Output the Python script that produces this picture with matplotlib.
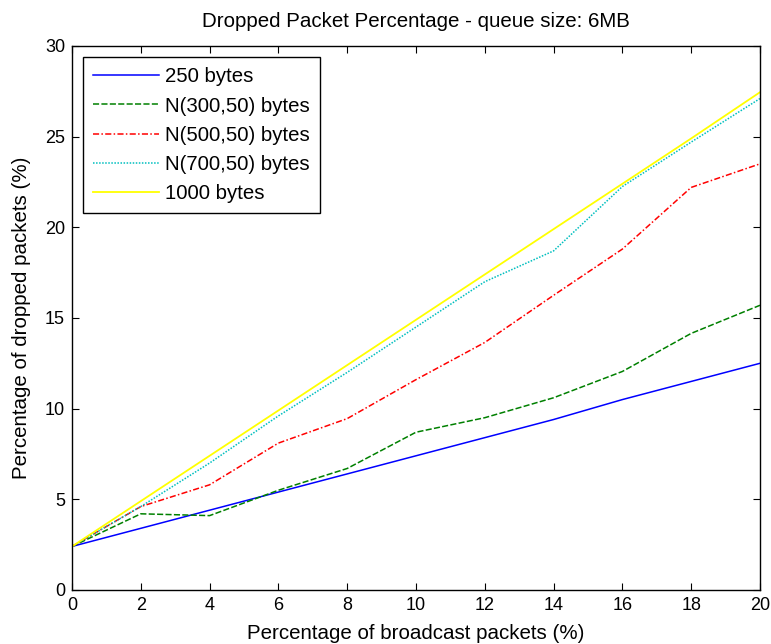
import matplotlib
matplotlib.use('Agg')
import matplotlib.pyplot as plt

plt.rcParams['font.family'] = ['Liberation Sans', 'DejaVu Sans']

broadcast = [0, 2, 4, 6, 8, 10, 12, 14, 16, 18, 20]
b250 = [2.4, 3.4, 4.4, 5.4, 6.4, 7.4, 8.4, 9.4, 10.5, 11.5, 12.5]
n300 = [2.4, 4.2, 4.1, 5.5, 6.7, 8.7, 9.5, 10.6, 12.05, 14.15, 15.7]
n500 = [2.4, 4.6, 5.8, 8.1, 9.45, 11.6, 13.65, 16.25, 18.8, 22.2, 23.5]
n700 = [2.4, 4.6, 7.0, 9.6, 12.0, 14.5, 17.0, 18.7, 22.25, 24.7, 27.1]
b1000 = [2.4, 4.9, 7.4, 9.9, 12.4, 14.9, 17.4, 19.9, 22.4, 24.9, 27.45]

fig = plt.figure(figsize=(7.71, 6.44), dpi=100)
ax = fig.add_axes([0.0934, 0.0839, 0.8923, 0.8447])

ax.plot(broadcast, b250, color='#0000ff', lw=1.1, label='250 bytes')
ax.plot(broadcast, n300, color='#008000', lw=1.1, ls=(0, (4, 1.5)), label='N(300,50) bytes')
ax.plot(broadcast, n500, color='#ff0000', lw=1.1, ls=(0, (4, 1.5, 1, 1.5)), label='N(500,50) bytes')
ax.plot(broadcast, n700, color='#00bfbf', lw=1.1, ls=(0, (1, 1)), label='N(700,50) bytes')
ax.plot(broadcast, b1000, color='#ffff00', lw=1.3, label='1000 bytes')

ax.set_xlim(0, 20)
ax.set_ylim(0, 30)
ax.set_xticks(range(0, 21, 2))
ax.set_yticks(range(0, 31, 5))
ax.tick_params(direction='in', top=True, right=True, labelsize=13, length=5, pad=5)
for s in ax.spines.values():
    s.set_linewidth(1.0)

ax.set_title('Dropped Packet Percentage - queue size: 6MB', fontsize=14.8, pad=14)
ax.set_xlabel('Percentage of broadcast packets (%)', fontsize=14.8, labelpad=7)
ax.set_ylabel('Percentage of dropped packets (%)', fontsize=14.8, labelpad=10)

leg = ax.legend(loc='upper left', fontsize=14.7, fancybox=False, edgecolor='black',
                framealpha=1, handlelength=3.2, handletextpad=0.3, labelspacing=0.5,
                borderpad=0.5, borderaxespad=0.55)
leg.get_frame().set_linewidth(1.0)

fig.savefig('out.png', dpi=100)
